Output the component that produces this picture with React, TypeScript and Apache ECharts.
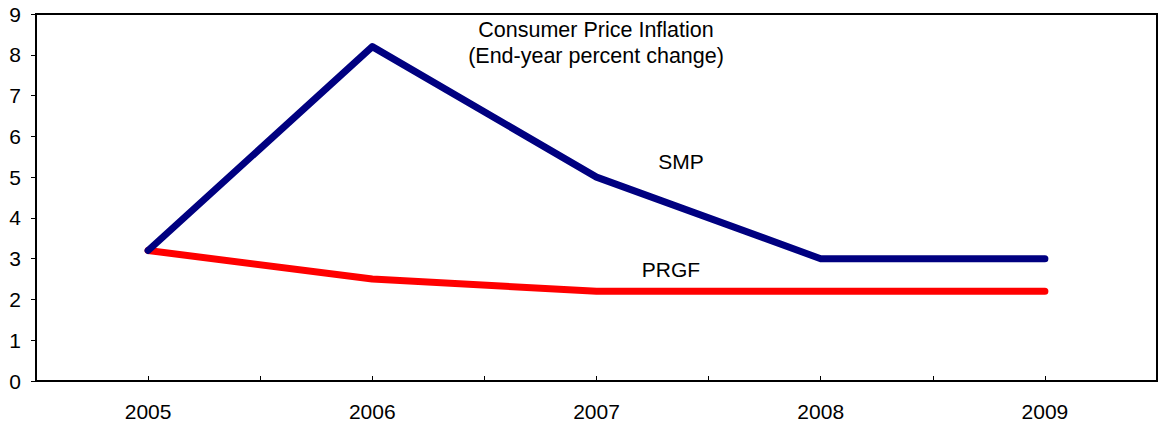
import React, { useEffect, useRef } from "react";
import * as echarts from "echarts";

const years = ["2005", "2006", "2007", "2008", "2009"];
const smp = [3.2, 8.2, 5.0, 3.0, 3.0];
const prgf = [3.2, 2.5, 2.2, 2.2, 2.2];
const titleLines = ["Consumer Price Inflation", "(End-year percent change)"];

const FONT = "'Liberation Sans', Arial, sans-serif";
const FS = 21;

export default function App() {
  const ref = useRef<HTMLDivElement>(null);
  useEffect(() => {
    if (!ref.current) return;
    const chart = echarts.init(ref.current, null, { renderer: "svg" });
    chart.setOption({
      animation: false,
      backgroundColor: "#ffffff",
      textStyle: { fontFamily: FONT },
      title: {
        text: titleLines.join("\n"),
        left: 596,
        top: 17,
        padding: 0,
        textAlign: "center",
        textStyle: { fontFamily: FONT, fontSize: 21.5, fontWeight: "normal", color: "#000", lineHeight: 26 },
      },
      grid: {
        left: 36,
        right: 3,
        top: 14,
        bottom: 45,
        show: true,
        borderColor: "#000",
        borderWidth: 2,
      },
      xAxis: [
        {
          type: "category",
          data: years,
          boundaryGap: true,
          axisLine: { lineStyle: { color: "#000", width: 2 } },
          axisTick: { show: true, inside: true, length: 5, lineStyle: { color: "#000", width: 1 } },
          axisLabel: { color: "#000", fontSize: FS, fontFamily: FONT, margin: 20 },
          splitLine: { show: false },
        },
        {
          type: "category",
          data: years,
          position: "bottom",
          boundaryGap: true,
          axisLine: { show: false },
          axisTick: { show: true, inside: true, alignWithLabel: true, length: 5, lineStyle: { color: "#000", width: 1 } },
          axisLabel: { show: false },
          splitLine: { show: false },
        },
      ],
      yAxis: {
        type: "value",
        min: 0,
        max: 9,
        interval: 1,
        axisLine: { show: true, lineStyle: { color: "#000", width: 2 } },
        axisTick: { show: true, length: 5, lineStyle: { color: "#000", width: 1 } },
        axisLabel: { color: "#000", fontSize: FS, fontFamily: FONT, margin: 15 },
        splitLine: { show: false },
      },
      series: [
        {
          name: "PRGF",
          type: "line",
          data: prgf,
          symbol: "none",
          lineStyle: { color: "#ff0000", width: 7, cap: "round", join: "round" },
          z: 2,
        },
        {
          name: "SMP",
          type: "line",
          data: smp,
          symbol: "none",
          lineStyle: { color: "#000080", width: 7, cap: "round", join: "round" },
          z: 3,
        },
      ],
      graphic: [
        {
          type: "text",
          x: 681,
          y: 161,
          style: { text: "SMP", fill: "#000", font: `${FS}px ${FONT}`, textAlign: "center", textVerticalAlign: "middle" },
        },
        {
          type: "text",
          x: 671,
          y: 269,
          style: { text: "PRGF", fill: "#000", font: `${FS}px ${FONT}`, textAlign: "center", textVerticalAlign: "middle" },
        },
      ],
    });
    return () => chart.dispose();
  }, []);
  return (
    <div
      ref={ref}
      style={{ position: "fixed", left: 0, top: 0, width: 1160, height: 426, background: "#fff" }}
    />
  );
}
